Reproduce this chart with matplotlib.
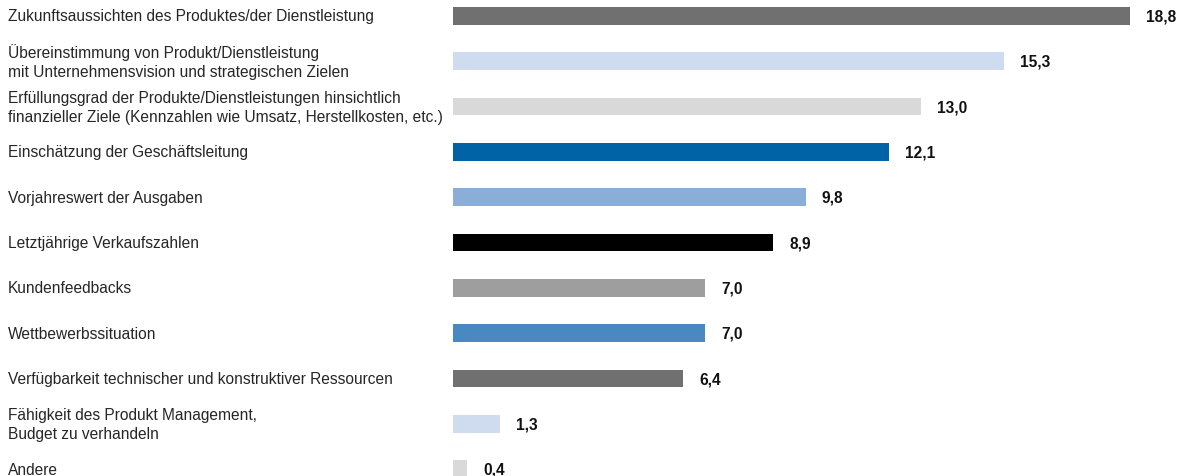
import matplotlib
matplotlib.use("Agg")
import matplotlib.pyplot as plt
from matplotlib.transforms import blended_transform_factory

labels = [
    "Zukunftsaussichten des Produktes/der Dienstleistung",
    "Übereinstimmung von Produkt/Dienstleistung\nmit Unternehmensvision und strategischen Zielen",
    "Erfüllungsgrad der Produkte/Dienstleistungen hinsichtlich\nfinanzieller Ziele (Kennzahlen wie Umsatz, Herstellkosten, etc.)",
    "Einschätzung der Geschäftsleitung",
    "Vorjahreswert der Ausgaben",
    "Letztjährige Verkaufszahlen",
    "Kundenfeedbacks",
    "Wettbewerbssituation",
    "Verfügbarkeit technischer und konstruktiver Ressourcen",
    "Fähigkeit des Produkt Management,\nBudget zu verhandeln",
    "Andere",
]
values = [18.8, 15.3, 13.0, 12.1, 9.8, 8.9, 7.0, 7.0, 6.4, 1.3, 0.4]
colors = ["#707070", "#cfdcef", "#d9d9d9", "#0063a6", "#8aaed8", "#000000",
          "#9e9e9e", "#4a88c2", "#707070", "#cfdcef", "#d9d9d9"]

plt.rcParams['font.family'] = ['Liberation Sans', 'DejaVu Sans']

W, H = 1186, 477
fig = plt.figure(figsize=(W / 100, H / 100), dpi=100)
x0 = 453
ax = fig.add_axes([x0 / W, 0, 1 - x0 / W, 1])

ypos = list(range(len(values)))
ax.barh(ypos, values, height=0.39, color=colors)

# 36 px per unit horizontally, 45.34 px per row vertically
ax.set_xlim(0, (W - x0) / 36.0)
ax.set_ylim((H - 16.9) / 45.34, -16.9 / 45.34)
ax.axis("off")

tr = blended_transform_factory(ax.transAxes, ax.transData)
lx = (8 - x0) / (W - x0)
for y, lab in zip(ypos, labels):
    ax.text(lx, y, lab, transform=tr, ha="left", va="center",
            fontsize=11.2, color="#262626", linespacing=1.32, clip_on=False)

for y, v in zip(ypos, values):
    ax.annotate(f"{v:.1f}".replace(".", ","), (v, y), xytext=(16, 0),
                textcoords="offset pixels", ha="left", va="center",
                fontsize=11.2, fontweight="bold", color="#111111")

fig.savefig("out.png", dpi=100)
